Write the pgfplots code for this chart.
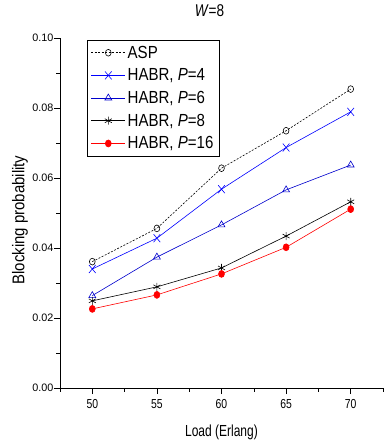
\documentclass[border=0pt]{standalone}
\usepackage{fontspec}
\setmainfont{Liberation Sans}[FakeStretch=0.88]
\newfontfamily\plainf{Liberation Sans}
\newfontfamily\condf{Liberation Sans}[FakeStretch=0.8]
\newfontfamily\legf{Liberation Sans}[FakeStretch=0.86]
\newfontfamily\xcondf{Liberation Sans}[FakeStretch=0.75]
\usepackage{pgfplots}
\pgfplotsset{compat=1.18}
\begin{document}
\begin{tikzpicture}
\begin{axis}[
  scale only axis,
  width=323pt, height=350pt,
  xmin=47.5, xmax=72.5, ymin=0, ymax=0.1,
  axis x line=bottom, axis y line=left,
  axis line style={-, line width=0.6pt},
  xtick={50,55,60,65,70},
  minor xtick={47.5,52.5,57.5,62.5,67.5,72.5},
  ytick={0,0.02,0.04,0.06,0.08,0.1},
  minor ytick={0.01,0.03,0.05,0.07,0.09},
  tick align=outside,
  major tick length=6pt, minor tick length=3.5pt,
  tick style={line width=0.6pt, black},
  /pgf/number format/assume math mode=true,
  yticklabel style={font=\plainf\fontsize{10.8}{12}\selectfont, inner xsep=0.5pt, /pgf/number format/.cd, fixed, fixed zerofill, precision=2},
  xticklabel style={font=\condf\fontsize{13}{14}\selectfont, yshift=-2pt},
  scaled y ticks=false,
  xlabel={Load (Erlang)},
  ylabel={Blocking probability},
  xlabel style={font=\xcondf\fontsize{16}{18}\selectfont, at={(axis description cs:0.5,-0.126)}, anchor=center},
  ylabel style={font=\fontsize{17}{19}\selectfont, at={(axis description cs:-0.124,0.48)}, anchor=center},
  title={\textit{W}=8},
  title style={font=\condf\fontsize{17}{18}\selectfont, at={(axis description cs:0.5,1)}, anchor=south, yshift=12pt, xshift=-12pt},
  legend style={at={(axis description cs:0.084,0.994)}, anchor=north west, draw=black, fill=white,
    font=\legf\fontsize{17.5}{19}\selectfont, row sep=5pt, inner sep=3.5pt, line width=0.6pt},
  legend cell align=left,
  legend image code/.code={\draw[mark repeat=2,mark phase=2,#1] plot coordinates {(0cm,0cm) (0.6cm,0cm) (1.2cm,0cm)};},
]
\addplot[black, dash pattern=on 2pt off 1.5pt, line width=0.6pt, mark=o, mark size=3.4pt, mark options={solid, xscale=0.85, line width=0.6pt}]
  coordinates {(50,0.0361)(55,0.0456)(60,0.0628)(65,0.0735)(70,0.0854)};
\addlegendentry{ASP}
\addplot[blue, line width=0.6pt, mark=x, mark size=4.7pt, mark options={solid, yscale=1.2}]
  coordinates {(50,0.0340)(55,0.0428)(60,0.0568)(65,0.0687)(70,0.0789)};
\addlegendentry{HABR, \textit{P}=4}
\addplot[blue!80!black, line width=0.6pt, mark=triangle, mark size=4pt, mark options={solid}]
  coordinates {(50,0.0264)(55,0.0374)(60,0.0466)(65,0.0566)(70,0.0637)};
\addlegendentry{HABR, \textit{P}=6}
\addplot[black, line width=0.6pt, mark=asterisk, mark size=4pt, mark options={solid}]
  coordinates {(50,0.0249)(55,0.0289)(60,0.0343)(65,0.0434)(70,0.0532)};
\addlegendentry{HABR, \textit{P}=8}
\addplot[red, line width=0.6pt, mark=*, mark size=3.5pt, mark options={solid, xscale=0.85}]
  coordinates {(50,0.0226)(55,0.0266)(60,0.0326)(65,0.0402)(70,0.0511)};
\addlegendentry{HABR, \textit{P}=16}
\coordinate (o) at (rel axis cs:0,0);
\end{axis}
\pgfresetboundingbox
\path[use as bounding box] ([shift={(-60pt,-56pt)}]o) rectangle ([shift={(323pt,388pt)}]o);
\end{tikzpicture}
\end{document}
